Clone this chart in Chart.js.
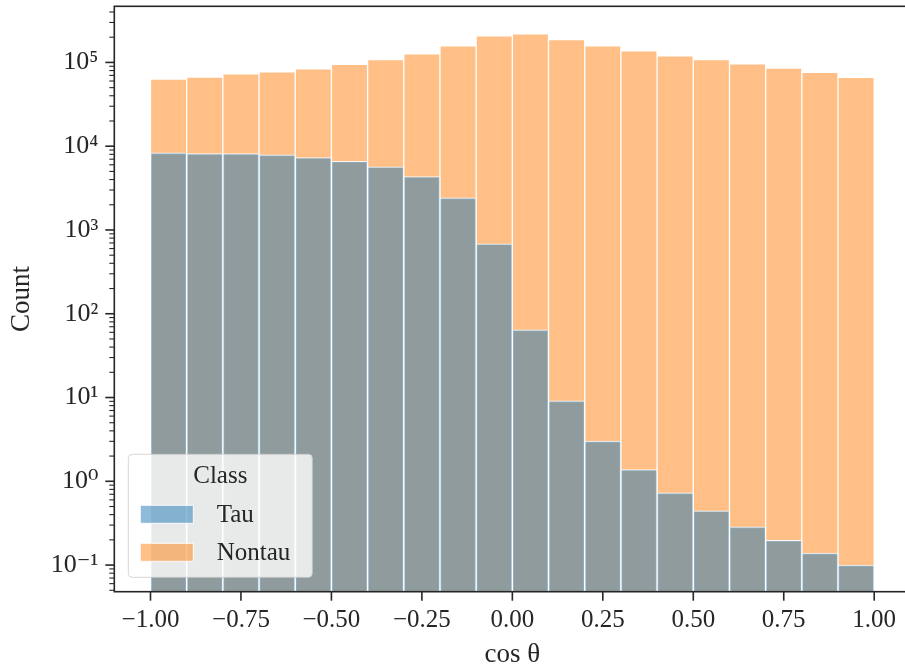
<!DOCTYPE html>
<html>
<head>
<meta charset="utf-8">
<script src="https://cdn.jsdelivr.net/npm/chart.js@4.4.1/dist/chart.umd.min.js"></script>
<style>
  html, body { margin: 0; padding: 0; background: #ffffff; overflow: hidden; width: 905px; height: 670px; }
  #wrap { position: absolute; left: 0; top: 0; width: 925px; height: 670px; }
</style>
</head>
<body>
<div id="wrap"><canvas id="c" width="925" height="670"></canvas></div>
<script>
// ---- data ----
const binCenters = [-0.95, -0.85, -0.75, -0.65, -0.55, -0.45, -0.35, -0.25, -0.15, -0.05,
                     0.05, 0.15, 0.25, 0.35, 0.45, 0.55, 0.65, 0.75, 0.85, 0.95];
const tauCounts = [8340, 8170, 8150, 7890, 7330, 6620, 5680, 4350, 2420, 684,
                   64.3, 9.13, 3.01, 1.38, 0.726, 0.445, 0.286, 0.197, 0.139, 0.100];
const nontauCounts = [63400, 67000, 73300, 77400, 84100, 94700, 108000, 127000, 158000, 208000,
                      220000, 187000, 158000, 138000, 120000, 108000, 96500, 85700, 76000, 66300];
const seriesNames = ['Tau', 'Nontau'];
const legendTitle = 'Class';
const xTickValues = [-1.0, -0.75, -0.5, -0.25, 0.0, 0.25, 0.5, 0.75, 1.0];
const xTickLabels = ['\u22121.00', '\u22120.75', '\u22120.50', '\u22120.25', '0.00', '0.25', '0.50', '0.75', '1.00'];
const yMajorExponents = [-1, 0, 1, 2, 3, 4, 5];
const yTickLabels = ['10\u207B\u00B9', '10\u2070', '10\u00B9', '10\u00B2', '10\u00B3', '10\u2074', '10\u2075'];
const xTitle = 'cos \u03B8';
const yTitle = 'Count';

const INK = '#262626';
const FONT = "'Liberation Serif', 'DejaVu Serif', serif";
Chart.defaults.font.family = FONT;
Chart.defaults.color = INK;

const yMin = Math.pow(10, -1.318);
const yMax = Math.pow(10, 5.67);

function yTicksList() {
  const out = [];
  for (let e = -2; e <= 5; e++) {
    for (let m = 1; m <= 9; m++) {
      const v = m * Math.pow(10, e);
      if (v >= yMin && v <= yMax) out.push({ value: v, major: m === 1 });
    }
  }
  return out;
}

const frame = {
  id: 'frame',
  afterDatasetsDraw(chart) {
    const { ctx, chartArea: a, scales: { x, y } } = chart;
    ctx.save();
    ctx.strokeStyle = INK;
    ctx.lineCap = 'butt';
    y.ticks.forEach(t => {
      const py = y.getPixelForValue(t.value);
      ctx.lineWidth = t.major ? 1.6 : 1.1;
      const len = t.major ? 9 : 5;
      ctx.beginPath(); ctx.moveTo(a.left - len, py); ctx.lineTo(a.left, py); ctx.stroke();
    });
    x.ticks.forEach(t => {
      const px = x.getPixelForValue(t.value);
      ctx.lineWidth = 1.6;
      ctx.beginPath(); ctx.moveTo(px, a.bottom); ctx.lineTo(px, a.bottom + 9); ctx.stroke();
    });
    ctx.lineWidth = 1.6;
    ctx.strokeRect(a.left, a.top, a.right - a.left, a.bottom - a.top);
    ctx.restore();
  },
  afterDraw(chart) {
    const { ctx, chartArea: a } = chart;
    const w = 184, h = 123;
    const left = a.left + 14, top = a.bottom - 14.4 - h;
    ctx.save();
    ctx.beginPath();
    ctx.roundRect(left, top, w, h, 4);
    ctx.fillStyle = 'rgba(255,255,255,0.8)';
    ctx.fill();
    ctx.strokeStyle = 'rgba(204,204,204,0.8)';
    ctx.lineWidth = 1;
    ctx.stroke();
    ctx.font = '25px ' + FONT;
    ctx.fillStyle = INK;
    ctx.textAlign = 'center';
    ctx.textBaseline = 'middle';
    ctx.fillText(legendTitle, left + w / 2, top + 22);
    chart.data.datasets.forEach((ds, i) => {
      const cy = top + 60 + i * 38;
      ctx.fillStyle = ds.backgroundColor;
      ctx.fillRect(left + 12, cy - 9, 53, 18);
      ctx.strokeStyle = 'rgba(255,255,255,0.9)';
      ctx.lineWidth = 1;
      ctx.strokeRect(left + 12, cy - 9, 53, 18);
      ctx.fillStyle = INK;
      ctx.textAlign = 'left';
      ctx.fillText(ds.label, left + 88.4, cy + 1);
    });
    ctx.restore();
  }
};

new Chart(document.getElementById('c'), {
  type: 'bar',
  data: {
    datasets: [
      {
        label: seriesNames[0],
        data: binCenters.map((c, i) => ({ x: c, y: tauCounts[i] })),
        backgroundColor: 'rgba(31,119,180,0.5)',
        borderColor: 'rgba(255,255,255,0.85)',
        borderWidth: 1,
        grouped: false,
        barPercentage: 1,
        categoryPercentage: 1
      },
      {
        label: seriesNames[1],
        data: binCenters.map((c, i) => ({ x: c, y: nontauCounts[i] })),
        backgroundColor: 'rgba(255,127,14,0.5)',
        borderColor: 'rgba(255,255,255,0.85)',
        borderWidth: 1,
        grouped: false,
        barPercentage: 1,
        categoryPercentage: 1
      }
    ]
  },
  options: {
    responsive: false,
    animation: false,
    devicePixelRatio: 1,
    layout: { padding: { top: 6.3, right: 14.6, left: 0, bottom: 0 } },
    plugins: { legend: { display: false }, tooltip: { enabled: false } },
    scales: {
      x: {
        type: 'linear',
        offset: false,
        min: -1.1,
        max: 1.1,
        grid: { display: false, drawTicks: true, tickLength: 9, offset: false },
        border: { display: false },
        afterBuildTicks: s => { s.ticks = xTickValues.map(v => ({ value: v })); },
        afterFit: s => { s.height = 78.3; s.paddingLeft = 0; s.paddingRight = 0; },
        ticks: {
          autoSkip: false,
          maxRotation: 0,
          padding: 5,
          font: { size: 25 },
          callback: v => { const i = xTickValues.findIndex(t => Math.abs(t - v) < 1e-9); return i >= 0 ? xTickLabels[i] : ''; }
        },
        title: { display: true, text: xTitle, font: { size: 27, lineHeight: 1.1 }, padding: { top: 0, bottom: 0 } }
      },
      y: {
        type: 'logarithmic',
        min: yMin,
        max: yMax,
        bounds: 'data',
        beginAtZero: false,
        grid: { display: false, drawTicks: true, tickLength: 9 },
        border: { display: false },
        afterBuildTicks: s => { s.ticks = yTicksList(); },
        afterFit: s => { s.width = 114.3; s.paddingTop = 0; s.paddingBottom = 0; },
        ticks: {
          autoSkip: false,
          padding: 7,
          font: { size: 26 },
          callback: v => {
            const e = Math.log10(v);
            const r = Math.round(e);
            if (Math.abs(e - r) > 1e-6) return '';
            const i = yMajorExponents.indexOf(r);
            return i >= 0 ? yTickLabels[i] : '';
          }
        },
        title: { display: true, text: yTitle, font: { size: 27 }, padding: { top: 6, bottom: 0 } }
      }
    }
  },
  plugins: [frame]
});
</script>
</body>
</html>
